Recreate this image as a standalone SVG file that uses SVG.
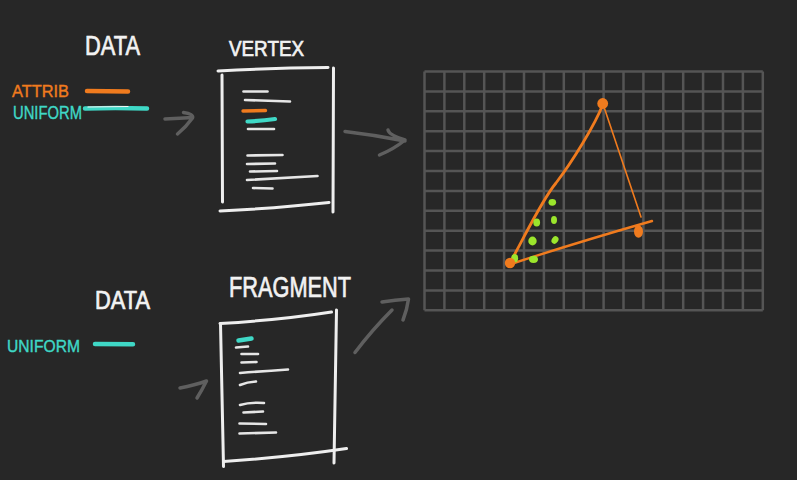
<svg xmlns="http://www.w3.org/2000/svg" width="797" height="480" viewBox="0 0 797 480">
  <defs>
    <style>
      .label { font-family: "Liberation Sans", "DejaVu Sans", sans-serif; fill: #f2f2f2; stroke: #f2f2f2; stroke-width: 0.7; }
      .small { font-family: "Liberation Sans", "DejaVu Sans", sans-serif; stroke-width: 0.4; }
      .chalk { fill: none; stroke: #eeeeee; stroke-linecap: round; stroke-linejoin: round; }
      .code { fill: none; stroke: #e6e6e6; stroke-width: 2.6; stroke-linecap: round; }
      .orange { fill: none; stroke: #f07b1e; stroke-linecap: round; }
      .cyan { fill: none; stroke: #3fd8c6; stroke-linecap: round; }
      .arrow { fill: none; stroke: #5f5f5f; stroke-width: 3.5; stroke-linecap: round; stroke-linejoin: round; }
      .grid { fill: none; stroke: #555555; stroke-width: 2.5; }
      .frag { fill: #9be52c; }
      .vert { fill: #f07b1e; }
    </style>
  </defs>

  <rect width="797" height="480" fill="#272727"/>

  <!-- Inputs of the vertex stage -->
  <g id="data-vertex">
    <text class="label" x="85" y="55" font-size="27" textLength="55" lengthAdjust="spacingAndGlyphs">DATA</text>
    <text class="small" x="12" y="97" font-size="17" fill="#f07b1e" stroke="#f07b1e" textLength="57" lengthAdjust="spacingAndGlyphs">ATTRIB</text>
    <path class="orange" stroke-width="4.5" d="M87,91 L128,91.5"/>
    <text class="small" x="13" y="119" font-size="18" fill="#3fd8c6" stroke="#3fd8c6" textLength="69" lengthAdjust="spacingAndGlyphs">UNIFORM</text>
    <path class="cyan" stroke-width="4.5" d="M85,108.5 Q115,107.5 147,108.5"/>
    <path fill="none" stroke="#f5f5f5" stroke-width="1.2" stroke-linecap="round" d="M88,107 L128,106.5"/>
  </g>

  <!-- Vertex shader sheet -->
  <g id="vertex">
    <text class="label" x="229" y="56" font-size="22" textLength="75" lengthAdjust="spacingAndGlyphs">VERTEX</text>
    <path class="chalk" stroke-width="3" d="M218,71 Q270,68 328,67.5"/>
    <path class="chalk" stroke-width="3" d="M222,75 L222.5,202"/>
    <path class="chalk" stroke-width="3" d="M333.5,68 L333,212"/>
    <path class="chalk" stroke-width="3" d="M220,211 Q280,208 329,202.5"/>
    <path class="code" d="M243.5,91.5 L267.5,91.5"/>
    <path class="code" d="M245,100 L290,101.5"/>
    <path class="orange" stroke-width="3.4" d="M243,111 L265.5,110.5"/>
    <path class="cyan" stroke-width="4.2" d="M247.5,121.5 Q262,121 275,119"/>
    <path class="code" d="M248,129 L274,129"/>
    <path class="code" d="M247.5,155.5 L282.5,155"/>
    <path class="code" d="M247,164 L275,163.5"/>
    <path class="code" d="M250,171.5 L277,171"/>
    <path class="code" d="M247,180 Q285,178 317.5,176"/>
    <path class="code" d="M253,188 L272.5,188.5"/>
  </g>

  <!-- Inputs of the fragment stage -->
  <g id="data-fragment">
    <text class="label" x="95" y="309" font-size="25" textLength="55" lengthAdjust="spacingAndGlyphs">DATA</text>
    <text class="small" x="7" y="352" font-size="17" fill="#3fd8c6" stroke="#3fd8c6" textLength="73" lengthAdjust="spacingAndGlyphs">UNIFORM</text>
    <path class="cyan" stroke-width="4.5" d="M95,344 L133,344.3"/>
  </g>

  <!-- Fragment shader sheet -->
  <g id="fragment">
    <text class="label" x="229" y="297" font-size="29" textLength="122" lengthAdjust="spacingAndGlyphs">FRAGMENT</text>
    <path class="chalk" stroke-width="3" d="M220,323.5 Q280,320 331.5,312"/>
    <path class="chalk" stroke-width="3" d="M220.5,323.5 Q222,390 223.5,466.5"/>
    <path class="chalk" stroke-width="3" d="M336.5,310 Q335,385 334,463"/>
    <path class="chalk" stroke-width="3" d="M223.5,461.5 Q290,457 346.5,448.5"/>
    <path class="cyan" stroke-width="4.5" d="M238.5,340.5 L251.5,338.5"/>
    <path class="code" d="M236,347.5 L248,346.5"/>
    <path class="code" d="M241.5,354 L258,354"/>
    <path class="code" d="M241.5,362.5 L256.5,362"/>
    <path class="code" d="M240,373 Q265,371 288,369.5"/>
    <path class="code" d="M240,385 Q247,382 256,381.5"/>
    <path class="code" d="M240,405 Q250,402 264,403"/>
    <path class="code" d="M243.5,412.5 L263,411.5"/>
    <path class="code" d="M239.5,423.5 L266,424"/>
    <path class="code" d="M239.5,433.5 L276,432.5"/>
  </g>

  <!-- Pixel grid with the rasterised triangle -->
  <g id="raster">
    <path class="grid" d="M424.5,71.5 V310.3 M444.4,71.5 V310.3 M464.3,71.5 V310.3 M484.2,71.5 V310.3 M504.1,71.5 V310.3 M524,71.5 V310.3 M543.9,71.5 V310.3 M563.8,71.5 V310.3 M583.7,71.5 V310.3 M603.6,71.5 V310.3 M623.5,71.5 V310.3 M643.4,71.5 V310.3 M663.3,71.5 V310.3 M683.2,71.5 V310.3 M703.1,71.5 V310.3 M723,71.5 V310.3 M742.9,71.5 V310.3 M762.8,71.5 V310.3
      M424.5,71.5 H762.8 M424.5,91.4 H762.8 M424.5,111.3 H762.8 M424.5,131.2 H762.8 M424.5,151.1 H762.8 M424.5,171 H762.8 M424.5,190.9 H762.8 M424.5,210.8 H762.8 M424.5,230.7 H762.8 M424.5,250.6 H762.8 M424.5,270.5 H762.8 M424.5,290.4 H762.8 M424.5,310.3 H762.8"/>
    <path class="orange" stroke-width="2.8" d="M510,263 C528,230 542,200 556,183 C572,162 595,125 603,104"/>
    <path class="orange" stroke-width="1.6" d="M603,104 Q622,160 641,217"/>
    <path class="orange" stroke-width="2.4" d="M511,264 Q575,243 652,221"/>
    <ellipse class="frag" cx="552.3" cy="202.3" rx="3.8" ry="3.4"/>
    <ellipse class="frag" cx="536.7" cy="222.5" rx="3.4" ry="4"/>
    <ellipse class="frag" cx="554" cy="220" rx="3" ry="4"/>
    <ellipse class="frag" cx="532.5" cy="241" rx="4.2" ry="4.4"/>
    <ellipse class="frag" cx="555" cy="240" rx="3.2" ry="4" transform="rotate(35 555 240)"/>
    <ellipse class="frag" cx="514.7" cy="258.3" rx="3.4" ry="4.2"/>
    <ellipse class="frag" cx="533.5" cy="259.3" rx="4.5" ry="3.6"/>
    <circle class="vert" cx="602.7" cy="103.5" r="5.4"/>
    <circle class="vert" cx="510" cy="263" r="5.2"/>
    <ellipse class="vert" cx="638.5" cy="231.5" rx="4.5" ry="6.2"/>
  </g>

  <!-- Flow arrows between stages -->
  <g id="connectors">
    <path class="arrow" d="M165,119 Q180,118 192.5,117.5 M183.5,112.5 Q194,114 192.5,118 Q186,127 177.5,134"/>
    <path class="arrow" d="M345,131.5 Q375,135 405,141 M388,130 Q389,135 405,140 Q394,149 379.5,155"/>
    <path class="arrow" d="M355,352.5 Q372,330 392,310 M382,302 Q395,300 408.5,299 Q407,310 403,320"/>
    <path class="arrow" d="M180,388 Q195,385 206.5,381 Q202,390 197,398"/>
  </g>
</svg>
